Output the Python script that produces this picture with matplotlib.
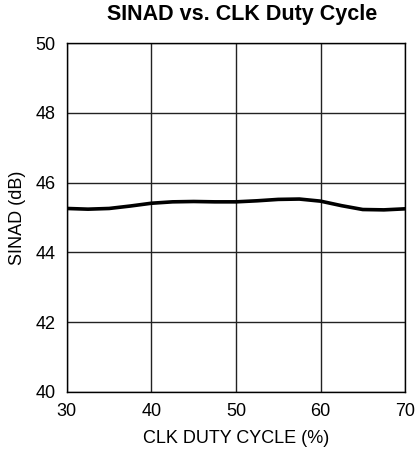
import matplotlib
matplotlib.use("Agg")
import matplotlib.pyplot as plt

plt.rcParams['font.family'] = ['Liberation Sans', 'DejaVu Sans']

duty_cycle = [30, 32.5, 35, 37.5, 40, 42.5, 45, 47.5, 50, 52.5, 55, 57.5, 60, 62.5, 65, 67.5, 70]
sinad = [45.26, 45.24, 45.26, 45.33, 45.41, 45.45, 45.46, 45.45, 45.45, 45.48, 45.52, 45.53, 45.47, 45.34, 45.23, 45.22, 45.25]

x_ticks = [30, 40, 50, 60, 70]
y_ticks = [40, 42, 44, 46, 48, 50]

fig = plt.figure(figsize=(4.18, 4.49), dpi=100)
ax = fig.add_axes([0.160, 0.127, 0.809, 0.777])

ax.plot(duty_cycle, sinad, color='black', linewidth=2.6, solid_capstyle='round')

ax.set_xlim(30, 70)
ax.set_ylim(40, 50)
ax.set_xticks(x_ticks)
ax.set_yticks(y_ticks)
ax.grid(True, color='#222222', linewidth=1.0)
ax.set_axisbelow(True)
for s in ax.spines.values():
    s.set_color('black')
    s.set_linewidth(1.0)
ax.tick_params(axis='both', length=0, labelsize=13, pad=8)

ax.set_xlabel('CLK DUTY CYCLE (%)', fontsize=13, labelpad=7)
ax.set_ylabel('SINAD (dB)', fontsize=13, labelpad=7)
fig.text(0.58, 0.968, 'SINAD vs. CLK Duty Cycle', fontsize=15.5, fontweight='bold',
         ha='center', va='center')

fig.savefig('out.png', dpi=100)
